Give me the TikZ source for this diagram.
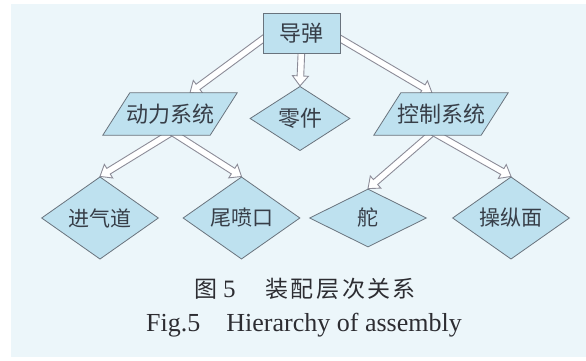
\documentclass[tikz,border=0pt]{standalone}
\usepackage{fontspec}
\setmainfont{Liberation Serif}
\newfontfamily\cjk{Noto Sans CJK SC}
\usetikzlibrary{calc,shapes.geometric}
\definecolor{bgpale}{RGB}{236,246,250}
\definecolor{boxfill}{RGB}{190,225,239}
\definecolor{edgecol}{RGB}{105,115,125}
\definecolor{arrowcol}{RGB}{140,140,152}
\definecolor{txtcol}{RGB}{55,62,72}
\definecolor{capcol}{RGB}{45,45,50}
\pgfdeclarelayer{bgl}
\pgfdeclarelayer{arrl}
\pgfdeclarelayer{shpl}
\pgfsetlayers{bgl,arrl,shpl,main}
\tikzset{
  nodetext/.style={text=txtcol, font=\cjk\fontsize{22}{24}\selectfont, inner sep=0pt},
  rectbox/.style={nodetext, draw=edgecol, fill=boxfill, line width=0.8pt, minimum width=77pt, minimum height=40pt},
  paratext/.style={nodetext, minimum width=107pt, minimum height=42pt},
  parashape/.style={draw=edgecol, fill=boxfill, line width=0.8pt},
  diabox/.style={nodetext, font=\cjk\fontsize{21}{23}\selectfont, shape=diamond, draw=edgecol, fill=boxfill, line width=0.8pt, minimum width=117pt, minimum height=58pt},
  smalldia/.style={diabox, font=\cjk\fontsize{22}{24}\selectfont, minimum width=100pt, minimum height=49pt},
  blockarr/.style={draw=arrowcol, fill=white, line width=0.9pt, line join=miter},
}
\newcommand\blockarrow[2]{%
  \coordinate (tmpH) at ($(#2)!10pt!(#1)$);
  \draw[blockarr] ($(#1)!3.3pt!90:(#2)$) -- ($(tmpH)!3.3pt!90:(#2)$) -- ($(tmpH)!8pt!90:(#2)$) -- (#2)
    -- ($(tmpH)!8pt!-90:(#2)$) -- ($(tmpH)!3.3pt!-90:(#2)$) -- ($(#1)!3.3pt!-90:(#2)$) -- cycle;
}
\newcommand\paradraw[1]{%
  \draw[parashape] ([xshift=-13.5pt]#1.south west) -- ([xshift=-13.5pt]#1.south east)
    -- ([xshift=13.5pt]#1.north east) -- ([xshift=13.5pt]#1.north west) -- cycle;
}
\begin{document}
\begin{tikzpicture}[x=1pt,y=1pt]
\useasboundingbox (0,0) rectangle (586,-361);
\begin{pgfonlayer}{bgl}
  \fill[white] (0,0) rectangle (586,-361);
  \fill[bgpale] (11,-4) rectangle (586,-357);
\end{pgfonlayer}

% nodes
\node[rectbox] (top) at (301.5,-33) {导弹};
\node[paratext] (dl) at (170,-114) {动力系统};
\node[smalldia] (zl) at (300,-118.5) {零件};
\node[paratext] (cs) at (441,-114) {控制系统};
\node[diabox] (a) at (100,-218) {进气道};
\node[diabox] (b) at (241.5,-218) {尾喷口};
\node[diabox] (c) at (368,-218) {舵};
\node[diabox] (d) at (511,-218) {操纵面};

\begin{pgfonlayer}{shpl}
  \paradraw{dl}
  \paradraw{cs}
\end{pgfonlayer}

% connector end points
\coordinate (topL) at ([xshift=3pt,yshift=-4pt]top.west);
\coordinate (topR) at ([xshift=-3pt,yshift=-4pt]top.east);
\coordinate (topB) at ([yshift=3pt]top.south);
\coordinate (dlIn) at ([xshift=20pt]dl.north);
\coordinate (csIn) at ([xshift=-9pt]cs.north);
\coordinate (dlOut) at ([xshift=2pt,yshift=3pt]dl.south);
\coordinate (csOut) at ([xshift=-8pt,yshift=3pt]cs.south);

\begin{pgfonlayer}{arrl}
  \blockarrow{topL}{dlIn}
  \blockarrow{topB}{zl.north}
  \blockarrow{topR}{csIn}
  \blockarrow{dlOut}{a.north}
  \blockarrow{dlOut}{b.north}
  \blockarrow{csOut}{c.north}
  \blockarrow{csOut}{d.north}
\end{pgfonlayer}

% captions
\node[anchor=base, text=capcol, inner sep=0pt] (cap1) at (305,-297)
  {{\cjk\fontsize{23}{25}\selectfont 图}\hspace{6pt}{\fontsize{25}{27}\selectfont 5}\hspace{30pt}{\cjk\fontsize{23}{25}\selectfont 装\hspace{2.5pt}配\hspace{2.5pt}层\hspace{2.5pt}次\hspace{2.5pt}关\hspace{2.5pt}系}};
\node[anchor=base, text=capcol, inner sep=0pt] (cap2) at (304,-331)
  {\fontsize{26}{28}\selectfont Fig.5\hspace{26pt}Hierarchy of assembly};
\end{tikzpicture}
\end{document}
